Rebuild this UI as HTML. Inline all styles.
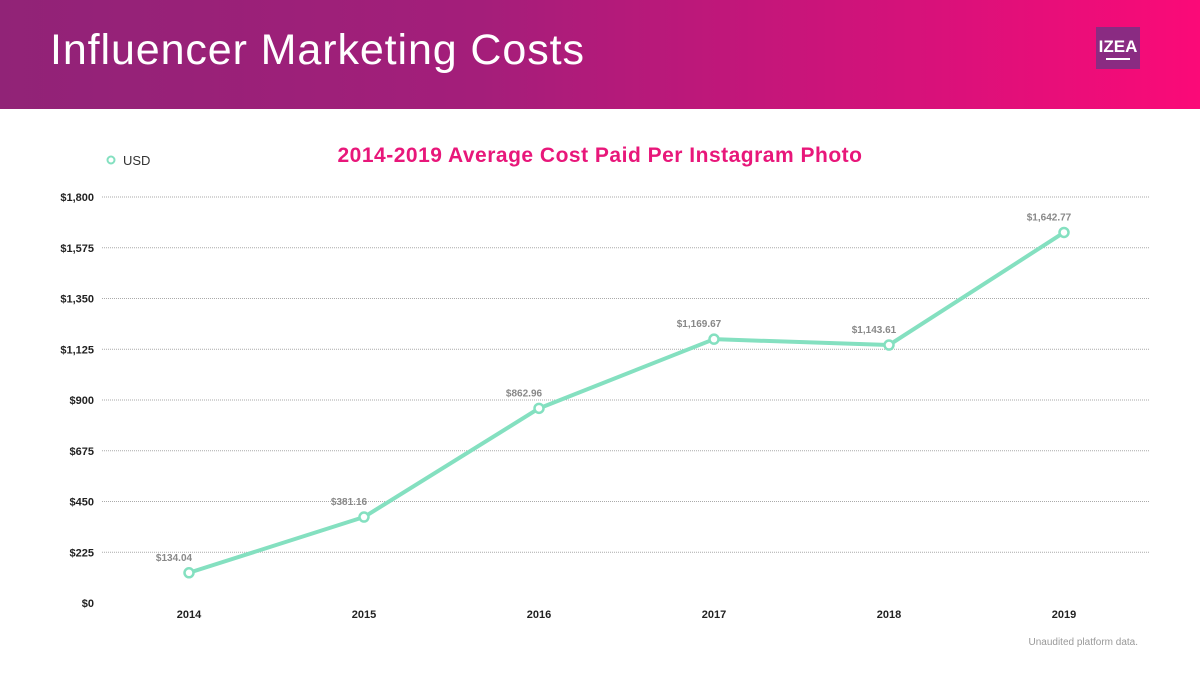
<!DOCTYPE html>
<html><head><meta charset="utf-8"><style>
html,body{margin:0;padding:0;width:1200px;height:675px;overflow:hidden;background:#fff;font-family:"Liberation Sans",sans-serif}
#hdr{position:absolute;left:0;top:0;width:1200px;height:109px;background:linear-gradient(90deg,#912377 0%,#a41e7a 40%,#d4127a 75%,#fb0a78 100%)}
#title{position:absolute;left:50px;top:26px;color:#fff;font-size:43px;letter-spacing:0.9px;font-weight:300}
#logo{position:absolute;left:1096px;top:27px;width:44px;height:42px;background:#8a2b82;color:#fff;font-size:17px;font-weight:bold;text-align:center;line-height:40px;letter-spacing:0px}
#logo:after{content:"";position:absolute;left:10px;right:10px;bottom:9px;height:2px;background:#fff}
</style></head><body>
<div id="hdr">
<div id="title">Influencer Marketing Costs</div>
<div id="logo">IZEA</div>
</div>
<svg id="chart" width="1200" height="675" style="position:absolute;left:0;top:0"></svg>
<script>
const categories=["2014","2015","2016","2017","2018","2019"];
const values=[134.04,381.16,862.96,1169.67,1143.61,1642.77];
const valueLabels=["$134.04","$381.16","$862.96","$1,169.67","$1,143.61","$1,642.77"];
const ticks=[0,225,450,675,900,1125,1350,1575,1800];
const tickLabels=["$0","$225","$450","$675","$900","$1,125","$1,350","$1,575","$1,800"];
const NS="http://www.w3.org/2000/svg";
const svg=document.getElementById('chart');
const y=v=>603-(v/1800)*406;
const x=i=>189+i*175;
function mk(t,a,txt){const e=document.createElementNS(NS,t);for(const k in a)e.setAttribute(k,a[k]);if(txt!=null)e.textContent=txt;svg.appendChild(e);return e;}
let e;
e=mk('text',{x:600,y:162,'text-anchor':'middle','font-size':21,'font-weight':'bold',fill:'#e8177a','letter-spacing':'0.5'},'2014-2019 Average Cost Paid Per Instagram Photo');


e=mk('circle',{cx:111,cy:160,r:3.5,fill:'#fff',stroke:'#84e0c0','stroke-width':2});


e=mk('text',{x:123,y:165,'font-size':13,fill:'#333'},'USD');


ticks.forEach((t,i)=>{
 if(t>0){e=mk('line',{x1:102,x2:1150,y1:y(t),y2:y(t),stroke:'#aaa','stroke-width':1,'stroke-dasharray':'1 1'});
 
 }
 e=mk('text',{x:94,y:y(t)+4,'text-anchor':'end','font-size':11,'font-weight':'bold',fill:'#222'},tickLabels[i]);
 
 
});
categories.forEach((c,i)=>{
 e=mk('text',{x:x(i),y:618,'text-anchor':'middle','font-size':11,'font-weight':'bold',fill:'#222'},c);
 
 
});
e=mk('polyline',{points:values.map((v,i)=>x(i)+','+y(v)).join(' '),fill:'none',stroke:'#84e0c0','stroke-width':4,'stroke-linejoin':'round'});


values.forEach((v,i)=>{
 e=mk('circle',{cx:x(i),cy:y(v),r:4.5,fill:'#fff',stroke:'#84e0c0','stroke-width':2.5});
 
 
 e=mk('text',{x:x(i)-15,y:y(v)-12,'text-anchor':'middle','font-size':10,'font-weight':'bold',fill:'#888'},valueLabels[i]);
 
 
});
e=mk('text',{x:1138,y:645,'text-anchor':'end','font-size':10,fill:'#999'},'Unaudited platform data.');


</script>
</body></html>
